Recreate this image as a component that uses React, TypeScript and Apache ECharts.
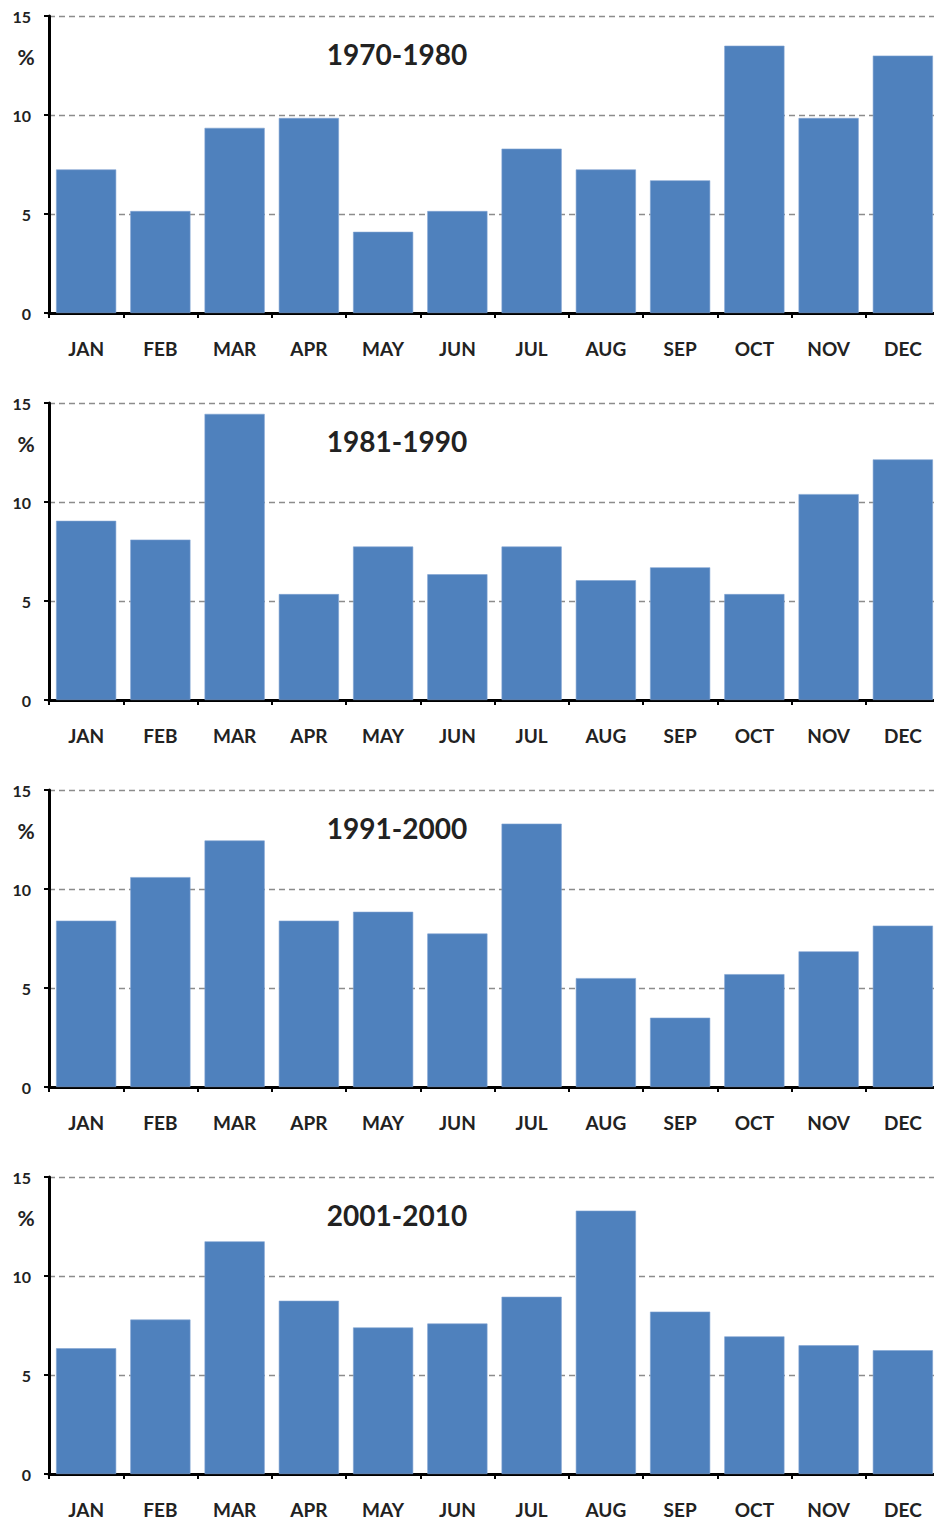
import React, { useEffect, useRef } from "react";
import * as echarts from "echarts";

const months = ["JAN", "FEB", "MAR", "APR", "MAY", "JUN", "JUL", "AUG", "SEP", "OCT", "NOV", "DEC"];
const periods = ["1970-1980", "1981-1990", "1991-2000", "2001-2010"];
const yTicks = [0, 5, 10, 15];

const values1970 = [7.25, 5.15, 9.35, 9.85, 4.1, 5.15, 8.3, 7.25, 6.7, 13.5, 9.85, 13.0];
const values1981 = [9.05, 8.1, 14.45, 5.35, 7.75, 6.35, 7.75, 6.05, 6.7, 5.35, 10.4, 12.15];
const values1991 = [8.4, 10.6, 12.45, 8.4, 8.85, 7.75, 13.3, 5.5, 3.5, 5.7, 6.85, 8.15];
const values2001 = [6.35, 7.8, 11.75, 8.75, 7.4, 7.6, 8.95, 13.3, 8.2, 6.95, 6.5, 6.25];

const allValues = [values1970, values1981, values1991, values2001];

const FONT = "Lato, 'Open Sans', sans-serif";
const PANEL_TOP = [16, 403, 790, 1177];
const PANEL_H = 297;

export default function App() {
  const ref = useRef<HTMLDivElement>(null);
  useEffect(() => {
    if (!ref.current) return;
    const chart = echarts.init(ref.current, undefined, { renderer: "svg" });
    const grids = PANEL_TOP.map((t) => ({
      left: 49,
      width: 891,
      top: t,
      height: PANEL_H,
      outerBoundsMode: "none",
      containLabel: false,
    }));
    const xAxes = grids.map((_, i) => ({
      type: "category",
      gridIndex: i,
      data: months,
      boundaryGap: true,
      axisLine: { show: true, lineStyle: { color: "#000", width: 3 } },
      axisTick: { show: true, inside: false, length: 5, alignWithLabel: false, lineStyle: { color: "#000", width: 2 } },
      axisLabel: { color: "#222", fontFamily: FONT, fontWeight: "bold", fontSize: 19, lineHeight: 16, margin: 27 },
      splitLine: { show: false },
    }));
    const yAxes = grids.map((_, i) => ({
      type: "value",
      gridIndex: i,
      min: yTicks[0],
      max: yTicks[yTicks.length - 1],
      interval: 5,
      axisLine: { show: true, lineStyle: { color: "#000", width: 3 } },
      axisTick: { show: true, inside: false, length: 5, lineStyle: { color: "#000", width: 2 } },
      axisLabel: { color: "#222", fontFamily: FONT, fontWeight: "bold", fontSize: 16, margin: 18 },
      splitLine: { show: true, lineStyle: { color: "#8c8c8c", type: [6, 4], width: 1.3 } },
    }));
    const series = allValues.map((vals, i) => ({
      type: "bar",
      xAxisIndex: i,
      yAxisIndex: i,
      data: vals,
      barCategoryGap: "19%",
      itemStyle: { color: "#4F81BD", borderColor: "#7fa3d1", borderWidth: 0.6 },
      silent: true,
    }));
    const graphics: any[] = [];
    PANEL_TOP.forEach((t, i) => {
      graphics.push({
        type: "text",
        x: 397,
        y: t + 38,
        style: { text: periods[i], font: `bold 28px ${FONT}`, fill: "#222", textAlign: "center", textVerticalAlign: "middle" },
      });
      graphics.push({
        type: "text",
        x: 26,
        y: t + 40,
        style: { text: "%", font: `bold 21px ${FONT}`, fill: "#222", textAlign: "center", textVerticalAlign: "middle" },
      });
    });
    chart.setOption({
      animation: false,
      grid: grids,
      xAxis: xAxes,
      yAxis: yAxes,
      series,
      graphic: graphics,
    } as any);
    return () => chart.dispose();
  }, []);
  return (
    <div
      ref={ref}
      style={{ position: "absolute", left: 0, top: 0, width: 934, height: 1519, background: "#fff" }}
    />
  );
}
